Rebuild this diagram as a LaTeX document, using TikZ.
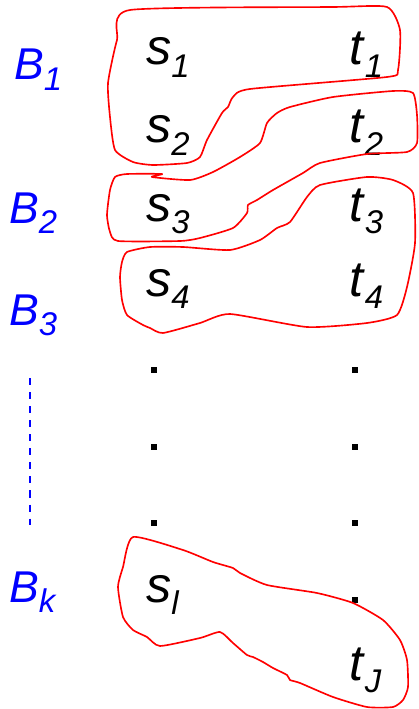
\documentclass[tikz,border=0pt]{standalone}
\usepackage{fontspec}
\setmainfont{Liberation Sans}

% item with subscript (s_i, t_j) and block label (B_i)
\newcommand{\itm}[2]{\textit{#1}\raisebox{-11pt}{\fontsize{28pt}{28pt}\selectfont\itshape #2}}
\newcommand{\blk}[2]{\textit{#1}\raisebox{-9pt}{\fontsize{28pt}{28pt}\selectfont\itshape #2}}

\begin{document}
\begin{tikzpicture}[x=0.03cm, y=-0.03cm,
  item/.style={anchor=base west, inner sep=0pt, font=\fontsize{43pt}{43pt}\selectfont},
  blocklabel/.style={anchor=base west, inner sep=0pt, blue, font=\fontsize{38pt}{38pt}\selectfont},
  blob/.style={red, line width=1.4pt, line join=round}]

  \useasboundingbox (0,0) rectangle (418,709);

  % ---------- Block labels ----------
  \node[blocklabel] (B1) at (14,80)  {\blk{B}{1}};
  \node[blocklabel] (B2) at (9,223)  {\blk{B}{2}};
  \node[blocklabel] (B3) at (9,325)  {\blk{B}{3}};
  \node[blocklabel] (Bk) at (9,602)  {\blk{B}{k}};
  \draw[blue, line width=1.8pt, dash pattern=on 6pt off 6pt] (30,378) -- (30,525);

  % ---------- Sources and targets ----------
  \node[item] (s1) at (146,65)  {\itm{s}{1}};
  \node[item] (t1) at (349,65)  {\itm{t}{1}};
  \node[item] (s2) at (146,143) {\itm{s}{2}};
  \node[item] (t2) at (349,143) {\itm{t}{2}};
  \node[item] (s3) at (146,221) {\itm{s}{3}};
  \node[item] (t3) at (349,221) {\itm{t}{3}};
  \node[item] (s4) at (146,296) {\itm{s}{4}};
  \node[item] (t4) at (349,296) {\itm{t}{4}};
  \node[item] (sl) at (146,602) {\itm{s}{l}};
  \node[item] (tJ) at (349,680) {\itm{t}{J}};

  % vertical ellipsis
  \foreach \y in {370,447,523}
    \foreach \x in {154,355}
      \fill (\x-2.7,\y-2.7) rectangle +(5.4,5.4);
  \fill (355-2.7,600-2.7) rectangle +(5.4,5.4);

  % ---------- Freehand blocks ----------
  % B1 = {s1, t1, s2}
  \draw[blob] plot[smooth cycle, tension=0.35] coordinates {
    (130,10) (333,7) (387,7) (400,30) (398,70) (387,77) (250,89) (233,97)
    (228,107) (222,113) (207,140) (200,157) (187,163) (153,165) (133,162)
    (115,150) (110,117) (108,83) (117,40)};
  % B2 = {t2, s3}
  \draw[blob] plot[smooth cycle, tension=0.35] coordinates {
    (267,123) (277,113) (290,107) (333,97) (393,91) (413,93) (417,115)
    (417,143) (407,152) (367,154) (320,163) (303,173) (273,190) (257,200)
    (248,205) (247,213) (233,228) (200,238) (180,241) (118,241) (110,232)
    (107,215) (110,190) (115,177) (127,174) (162,174) (152,177) (190,180)
    (213,172) (240,157) (260,143)};
  % B3 = {t3, s4, t4}
  \draw[blob] plot[smooth cycle, tension=0.35] coordinates {
    (127,252) (150,247) (183,247) (230,250) (260,240) (277,228) (290,222)
    (307,197) (320,185) (367,177) (393,180) (413,193) (415,243) (407,287)
    (397,315) (367,323) (307,327) (230,314) (200,323) (163,333) (150,328)
    (143,325) (127,315) (122,300) (120,277) (122,262)};
  % Bk = {s_l, ..., t_J}
  \draw[blob] plot[smooth cycle, tension=0.35] coordinates {
    (133,537) (183,550) (213,562) (233,568) (240,573) (267,585) (317,593)
    (353,603) (383,620) (400,640) (407,660) (408,687) (403,700) (393,707)
    (367,707) (333,697) (300,683) (290,680) (287,675) (273,668) (263,662)
    (253,657) (247,655) (233,643) (220,632) (200,638) (160,646) (147,637)
    (133,630) (123,617) (118,587) (123,567)};

\end{tikzpicture}
\end{document}
